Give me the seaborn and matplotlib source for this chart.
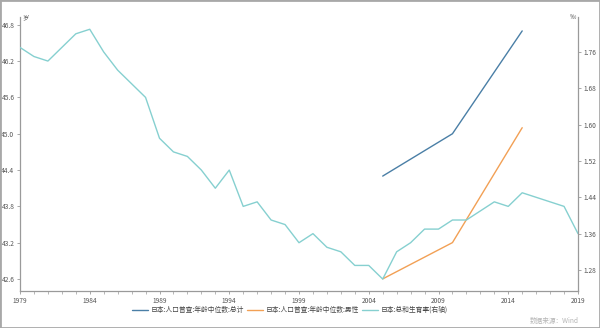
import matplotlib
matplotlib.use("Agg")
import matplotlib.pyplot as plt
import matplotlib.patches as mpatches
import seaborn as sns
import pandas as pd

# --- data ---
fert_years = list(range(1979, 2020))
fertility = [1.77, 1.75, 1.74, 1.77, 1.80, 1.81, 1.76, 1.72, 1.69, 1.66,
             1.57, 1.54, 1.53, 1.50, 1.46, 1.50, 1.42, 1.43, 1.39, 1.38,
             1.34, 1.36, 1.33, 1.32, 1.29, 1.29, 1.26, 1.32, 1.34, 1.37,
             1.37, 1.39, 1.39, 1.41, 1.43, 1.42, 1.45, 1.44, 1.43, 1.42,
             1.36]
census_years = [2005, 2010, 2015]
median_total = [44.3, 45.0, 46.7]
median_male = [42.6, 43.2, 45.1]

left_ticks = [42.6, 43.2, 43.8, 44.4, 45.0, 45.6, 46.2, 46.8]
right_ticks = [1.28, 1.36, 1.44, 1.52, 1.60, 1.68, 1.76]
x_ticks = list(range(1979, 2020, 5))

labels = ["日本:人口普查:年龄中位数:总计",
          "日本:人口普查:年龄中位数:男性",
          "日本:总和生育率(右轴)"]
colors = ["#4a7fa6", "#f2a055", "#86d0d0"]

sns.set_theme(style="white")
plt.rcParams["font.family"] = ["Noto Sans CJK SC", "DejaVu Sans"]

fig = plt.figure(figsize=(6.0, 3.28), dpi=100)
ax = fig.add_axes([20 / 600, 37 / 328, 558 / 600, 274 / 328])
ax2 = ax.twinx()

df_total = pd.DataFrame({"year": census_years, "value": median_total})
df_male = pd.DataFrame({"year": census_years, "value": median_male})
df_fert = pd.DataFrame({"year": fert_years, "value": fertility})

sns.lineplot(data=df_total, x="year", y="value", ax=ax, color=colors[0],
             linewidth=1.0, label=labels[0], legend=False)
sns.lineplot(data=df_male, x="year", y="value", ax=ax, color=colors[1],
             linewidth=1.0, label=labels[1], legend=False)
sns.lineplot(data=df_fert, x="year", y="value", ax=ax2, color=colors[2],
             linewidth=1.0, label=labels[2], legend=False)

ax.set_xlim(1979, 2019)
ax.set_ylim(42.40, 46.93)
ax2.set_ylim(1.2337, 1.837)

spine_color = "#9a9a9a"
for a in (ax, ax2):
    a.set_xlabel("")
    a.set_ylabel("")
    a.grid(False)
    for s in a.spines.values():
        s.set_visible(False)
        s.set_color(spine_color)
        s.set_linewidth(0.9)
ax.spines["left"].set_visible(True)
ax.spines["bottom"].set_visible(True)
ax2.spines["right"].set_visible(True)

ax.set_xticks(x_ticks)
ax.set_xticklabels([str(y) for y in x_ticks])
ax.set_xticks(range(1979, 2020), minor=True)
ax.set_yticks(left_ticks)
ax.set_yticklabels([f"{v:.1f}" for v in left_ticks])
ax2.set_yticks(right_ticks)
ax2.set_yticklabels([f"{v:.2f}" for v in right_ticks])

tick_kw = dict(labelsize=4.8, labelcolor="#555555", color=spine_color,
               width=0.6, length=2.5, pad=1.5)
ax.tick_params(axis="x", which="major", bottom=True, direction="out", **tick_kw)
ax.tick_params(axis="x", which="minor", bottom=True, direction="out",
               length=1.8, width=0.5, color=spine_color)
ax.tick_params(axis="y", which="major", left=True, direction="out", **tick_kw)
ax2.tick_params(axis="y", which="major", right=True, direction="out", **tick_kw)

# unit labels at the top of each value axis
ax.text(0.004, 1.0, "岁", transform=ax.transAxes, fontsize=4.5,
        color="#555555", ha="left", va="center")
ax2.text(0.996, 1.0, "‰", transform=ax2.transAxes, fontsize=4.5,
         color="#555555", ha="right", va="center")

handles = [plt.Line2D([], [], color=c, linewidth=1.0) for c in colors]
fig.legend(handles, labels, loc="center", bbox_to_anchor=(0.483, 18 / 328),
           ncol=3, frameon=False, fontsize=4.9, handlelength=2.3,
           handletextpad=0.4, columnspacing=0.5, labelcolor="#444444")

fig.text(0.965, 7 / 328, "数据来源：Wind", fontsize=4.8, color="#b5b5b5",
         ha="right", va="center")

# light frame around the figure
fig.patches.append(mpatches.Rectangle((0, 0), 1, 1, transform=fig.transFigure,
                                      fill=False, edgecolor="#a8a8a8",
                                      linewidth=2.0))

fig.savefig("out.png", dpi=100, facecolor="white")
